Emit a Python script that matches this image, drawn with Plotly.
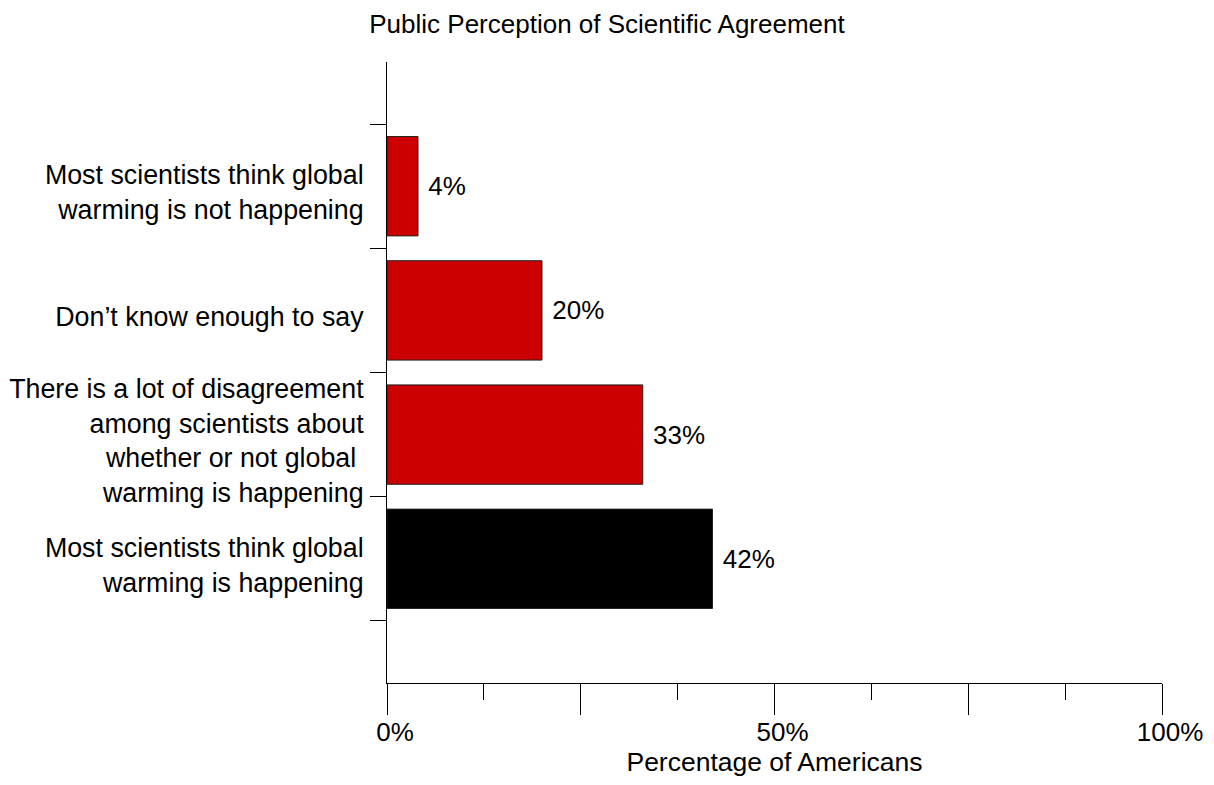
import plotly.graph_objects as go

categories = [
    "Most scientists think global<br>warming is happening",
    "There is a lot of disagreement<br>among scientists about<br>whether or not global <br>warming is happening",
    "Don’t know enough to say",
    "Most scientists think global<br>warming is not happening",
]
values = [42, 33, 20, 4]
bar_colors = ["#000000", "#CC0000", "#CC0000", "#CC0000"]
major_ticks = [0, 25, 50, 75, 100]
major_labels = ["0%", "", "50%", "", "100%"]
minor_ticks = [12.5, 37.5, 62.5, 87.5]

FONT = "Liberation Sans, Arial, Helvetica, sans-serif"

fig = go.Figure(
    go.Bar(
        x=values,
        y=categories,
        orientation="h",
        width=0.8,
        marker=dict(color=bar_colors, line=dict(color="#222222", width=1)),
        text=[f"\u00a0{v}%" for v in values],
        textposition="outside",
        textfont=dict(family=FONT, size=26, color="black"),
        cliponaxis=False,
        hoverinfo="skip",
    )
)

fig.update_layout(
    width=1198,
    height=769,
    paper_bgcolor="white",
    plot_bgcolor="white",
    showlegend=False,
    font=dict(family=FONT, size=26, color="black"),
    margin=dict(l=379, r=44, t=54, b=94, autoexpand=False),
    title=dict(
        text="Public Perception of Scientific Agreement",
        x=0.5,
        xref="container",
        xanchor="center",
        y=1 - 16 / 769,
        yref="container",
        yanchor="middle",
        font=dict(family=FONT, size=26, color="black"),
    ),
    xaxis=dict(
        automargin=False,
        range=[0, 100],
        tickvals=major_ticks,
        ticktext=major_labels,
        ticks="outside",
        ticklen=31,
        tickwidth=1,
        tickcolor="black",
        ticklabelshift=8,
        ticklabelstandoff=-5,
        minor=dict(tickvals=minor_ticks, ticks="outside", ticklen=16, tickwidth=1, tickcolor="black", showgrid=False),
        showline=True,
        linecolor="black",
        linewidth=1,
        showgrid=False,
        zeroline=False,
        title=dict(text="Percentage of Americans", font=dict(family=FONT, size=26.5), standoff=20),
        tickfont=dict(family=FONT, size=26),
    ),
    yaxis=dict(
        automargin=False,
        type="category",
        categoryorder="array",
        categoryarray=categories,
        range=[-1, 4],
        tickson="boundaries",
        ticks="outside",
        ticklen=16,
        tickwidth=1,
        tickcolor="black",
        ticklabelstandoff=17,
        ticklabelshift=6,
        showline=True,
        linecolor="black",
        linewidth=1,
        showgrid=False,
        zeroline=False,
        tickfont=dict(family=FONT, size=26.8),
    ),
)

fig.write_html("out.html")
